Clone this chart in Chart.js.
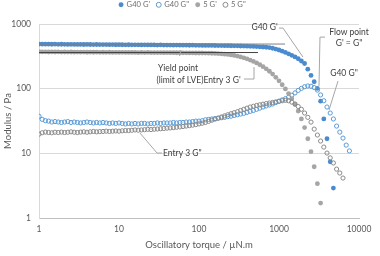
<!DOCTYPE html>
<html><head><meta charset="utf-8">
<script src="https://cdn.jsdelivr.net/npm/chart.js@4/dist/chart.umd.min.js"></script>
<style>html,body{margin:0;padding:0;background:#fff}#wrap{width:380px;height:256px}</style>
</head><body><div id="wrap"><canvas id="c" width="380" height="256"></canvas></div>
<script>
// Oscillatory torque (µN.m) – shared x values
const xVals = [1,1.096,1.202,1.318,1.445,1.585,1.738,1.905,2.089,2.291,2.512,2.754,3.02,3.311,3.631,3.981,4.365,4.786,5.248,5.754,6.31,6.918,7.586,8.318,9.12,
10,10.96,12.02,13.18,14.45,15.85,17.38,19.05,20.89,22.91,25.12,27.54,30.2,33.11,36.31,39.81,43.65,47.86,52.48,57.54,63.1,69.18,75.86,83.18,91.2,
100,109.6,120.2,131.8,144.5,158.5,173.8,190.5,208.9,229.1,251.2,275.4,302,331.1,363.1,398.1,436.5,478.6,524.8,575.4,631,691.8,758.6,831.8,912,
1000,1096,1202,1318,1445,1585,1738,1905,2089,2291,2512,2754,3020,3311,3631,3981,4365,4786,5248,5754,6310,6918,7586];
// G40 G'
const g40Gp = [490,488,487,488,486,487,485,486,485,484,485,484,483,484,482,483,482,481,482,480,481,480,479,480,478,479,478,477,478,476,
477,476,475,476,474,475,474,473,474,472,473,472,471,472,470,471,470,469,470,468,468,467,467,466,466,465,464,464,463,462,
461,460,459,457,456,454,452,450,447,444,441,437,432,422,410,396,380,364,346,328,310,290,268,245,200,160,128,101,64,34,16.8,7.4,2.9];
// G40 G''
const g40Gpp = [37.5,33.5,32,31.5,30.5,31,30.5,30,30.5,31,30,30.5,30,29.5,30,30.5,30,29.5,30,29.5,30,29.5,29,29.5,29,29.5,29,28.5,29,28.5,
29,28.5,29,29,28.5,29,29,29.5,29,29.5,29.5,29.5,30,29.5,30,30,30.5,30.5,31,31.5,31.5,32,33,33.5,34,34.5,35,35.5,36,37,
37.5,38.5,39.5,40.5,41.5,43,44.5,46,48,50,52,54,56,58,61,64,67,70,74,79,86,94,101,107,110,109,104,95,80,65,52,42,34,26.4,21.3,17.2,13.4,10.9];
// 5 G'
const s5Gp = [372,370,371,369,370,369,370,368,369,368,369,367,368,367,368,366,367,366,367,365,366,365,366,364,365,364,365,363,364,363,
364,362,363,362,363,361,362,361,362,360,361,360,360,359,359,358,358,357,357,356,356,356,355,354,353,351,349,346,342,338,
333,327,319,310,300,289,277,264,250,235,219,203,186,168,150,132,115,99,84,70,57,45,34,25,16.8,10.6,6.2,3.4,1.7];
// 5 G''
const s5Gpp = [19.8,20.8,21.3,21,20.8,21.2,21,21.3,21,21.2,21.5,21.2,21,21.3,21.5,21.2,21.5,21.8,21.5,21.7,21.8,22,21.8,22,22.2,22,22.3,22.5,22.5,22.7,
23,22.8,23,23.2,23.5,23.3,23.6,23.8,24,24.2,24.5,24.7,25,25.3,25.6,26,26.4,26.8,27.3,27.8,28.5,29.2,30,31.2,32.5,33.8,35,36.5,38,39.5,
41,42.5,44,46,48,50,52,53.5,55,56.3,57.5,58.8,60,61.2,62.5,63.8,65,66,65,62,58,53,48,42,36,30.4,23.7,19.2,15.5,12.5,10.1,8.5,7.1,5.7,4.96,4.15];
// plateau (LVE) tangent lines [x, y]
const g40Plateau = [[1,490],[1190,490]];
const s5Plateau = [[1,362],[546,362]];
const xTicks = [1,10,100,1000,10000];
const yTicks = [1,10,100,1000];
const seriesLabels = ["G40 G'", 'G40 G"', "5 G'", '5 G"'];
// annotation labels, anchored in data units
const annoTexts = [
  ["G40 G'", 660, 896, 'center'],
  ['Flow point', 7500, 750, 'center'],
  ["G' = G\"", 7500, 507, 'center'],
  ['G40 G"', 6494, 174, 'center'],
  ['Yield point', 54.6, 208, 'center'],
  ["(limit of LVE)Entry 3 G'", 98.6, 136, 'center'],
  ['Entry 3 G"', 35.5, 10.1, 'left']
];
const leaderLines = [
  [[1000,865],[1122,865],[1995,308]],
  [[3758,627],[3254,627],[3162,110]],
  [[5464,131],[4217,46.7]],
  [[57,319],[59.6,395]],
  [[365,141],[487,141],[487,216]],
  [[34.5,10.1],[29.9,10.1],[18.3,20.6]]
];

const pts = arr => arr.map((v,i)=>({x:xVals[i], y:v}));
const FONT = 'Lato';
const BLUE = '#4a8bd0', BLUE2 = '#5b9bd5', GRAY = '#a5a5a5', GRAY2 = '#8a8a8a';

const annoPlugin = {
  id:'anno',
  beforeLayout(chart){
    const lg = chart.legend;
    if (lg && !lg._patched){
      const f = lg.fit.bind(lg);
      lg.fit = function(){ f(); this.height = 24; };
      const d = lg.draw.bind(lg);
      lg.draw = function(){ const c=this.ctx; c.save(); c.translate(3,-6); d(); c.restore(); };
      lg._patched = true;
    }
  },
  afterDatasetsDraw(chart){
    const {ctx, scales:{x, y}} = chart;
    ctx.save();
    ctx.strokeStyle = '#a6a6a6'; ctx.lineWidth = 1;
    leaderLines.forEach(l=>{
      ctx.beginPath();
      l.forEach((p,i)=>{ const px=x.getPixelForValue(p[0]), py=y.getPixelForValue(p[1]); i?ctx.lineTo(px,py):ctx.moveTo(px,py); });
      ctx.stroke();
    });
    ctx.fillStyle = '#404040';
    ctx.font = '8.5px ' + FONT;
    ctx.textBaseline = 'middle';
    annoTexts.forEach(t=>{
      ctx.textAlign = t[3];
      ctx.fillText(t[0], x.getPixelForValue(t[1]), y.getPixelForValue(t[2]));
    });
    ctx.restore();
  }
};

new Chart(document.getElementById('c'), {
  type:'scatter',
  data:{datasets:[
    {label:seriesLabels[0], data:pts(g40Gp), order:4, pointStyle:'circle', pointRadius:2.4, borderWidth:0,
     backgroundColor:BLUE, borderColor:BLUE, pointBackgroundColor:BLUE, pointBorderColor:BLUE},
    {label:seriesLabels[1], data:pts(g40Gpp), order:3, pointStyle:'circle', pointRadius:2.1, borderWidth:1,
     backgroundColor:'rgba(0,0,0,0)', borderColor:BLUE2, pointBackgroundColor:'rgba(0,0,0,0)', pointBorderColor:BLUE2},
    {label:seriesLabels[2], data:pts(s5Gp), order:2, pointStyle:'circle', pointRadius:2.4, borderWidth:0,
     backgroundColor:GRAY, borderColor:GRAY, pointBackgroundColor:GRAY, pointBorderColor:GRAY},
    {label:seriesLabels[3], data:pts(s5Gpp), order:1, pointStyle:'circle', pointRadius:2.1, borderWidth:1,
     backgroundColor:'rgba(0,0,0,0)', borderColor:GRAY2, pointBackgroundColor:'rgba(0,0,0,0)', pointBorderColor:GRAY2},
    {label:'t1', data:g40Plateau.map(p=>({x:p[0],y:p[1]})), order:0, showLine:true, pointRadius:0, borderColor:'#808080', borderWidth:1},
    {label:'t2', data:s5Plateau.map(p=>({x:p[0],y:p[1]})), order:0, showLine:true, pointRadius:0, borderColor:'#404040', borderWidth:1}
  ]},
  options:{
    responsive:false, animation:false, devicePixelRatio:1,
    layout:{padding:{left:0,right:21,top:0,bottom:0}},
    plugins:{
      tooltip:{enabled:false},
      legend:{position:'top', labels:{usePointStyle:true, pointStyle:'circle', boxWidth:3.5, boxHeight:3.5, padding:7,
        color:'#6e6e6e', font:{family:FONT, size:7.6},
        filter:item=>item.datasetIndex<4, sort:(a,b)=>a.datasetIndex-b.datasetIndex}}
    },
    scales:{
      x:{type:'logarithmic', min:1, max:10000,
        afterBuildTicks:s=>{s.ticks = xTicks.map(v=>({value:v}));},
        afterFit:s=>{s.height = 38;},
        ticks:{callback:v=>String(v), color:'#595959', font:{family:FONT,size:8.5}, padding:6, maxRotation:0, autoSkip:false},
        grid:{drawOnChartArea:false, drawTicks:false},
        border:{display:true, color:'#bfbfbf'},
        title:{display:true, text:'Oscillatory torque / µN.m', color:'#595959', font:{family:FONT,size:9.5}, padding:{top:0,bottom:5}}},
      y:{type:'logarithmic', min:1, max:1000,
        afterBuildTicks:s=>{s.ticks = yTicks.map(v=>({value:v}));},
        afterFit:s=>{s.width = 39;},
        ticks:{callback:v=>String(v), color:'#595959', font:{family:FONT,size:8.5}, padding:8, autoSkip:false},
        grid:{color:'#d9d9d9', drawTicks:false},
        border:{display:true, color:'#d9d9d9'},
        title:{display:true, text:'Modulus / Pa', color:'#595959', font:{family:FONT,size:9.5}, padding:{top:2,bottom:0}}}
    }
  },
  plugins:[annoPlugin]
});
</script></body></html>
